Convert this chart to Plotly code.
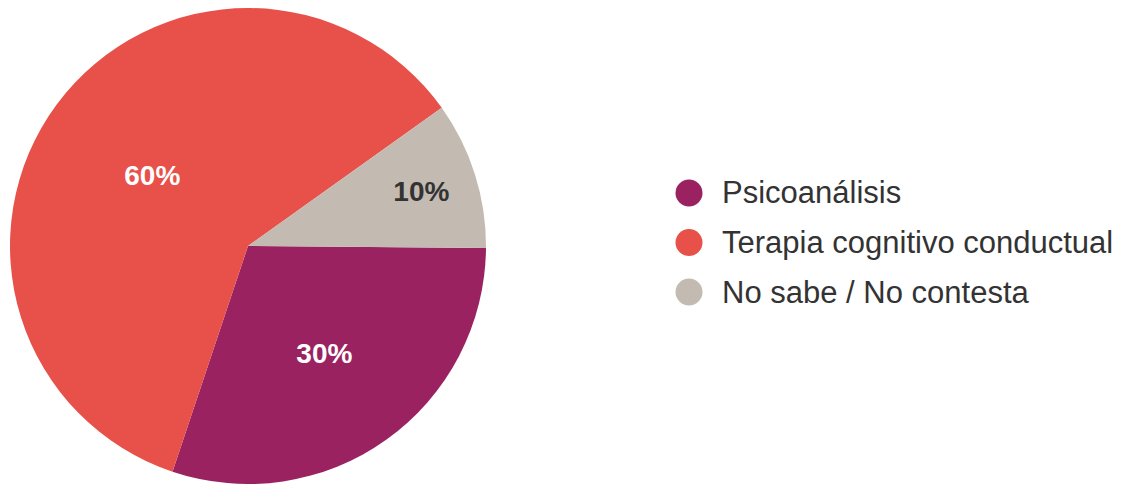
import plotly.graph_objects as go

# Survey answers and their shares
categories = ["Psicoanálisis", "Terapia cognitivo conductual", "No sabe / No contesta"]
shares = [30, 60, 10]
colors = ["#9A2261", "#E8504A", "#C3BBB1"]
label_colors = ["#FFFFFF", "#FFFFFF", "#333333"]

W, H = 1124, 484
FONT = "Arial, Liberation Sans, sans-serif"

fig = go.Figure(
    go.Pie(
        labels=categories,
        values=shares,
        sort=False,
        direction="clockwise",
        rotation=90.5,
        marker=dict(colors=colors, line=dict(width=0)),
        texttemplate="%{percent:.0%}",
        textposition="inside",
        insidetextorientation="horizontal",
        textfont=dict(family=FONT, size=28, color=label_colors, weight="bold"),
        hoverinfo="label+percent",
        showlegend=False,
        domain=dict(x=[10 / W, 486 / W], y=[0, 476 / H]),
    )
)

# Legend with round swatches, one row per category
legend_x, legend_y0, row_gap, dot_r, text_gap = 689, 193, 49.5, 13.5, 31
shapes, annotations = [], []
for i, (name, col) in enumerate(zip(categories, colors)):
    cy = legend_y0 + i * row_gap
    shapes.append(dict(
        type="circle", xref="paper", yref="paper",
        x0=(legend_x - dot_r) / W, x1=(legend_x + dot_r) / W,
        y0=1 - (cy + dot_r) / H, y1=1 - (cy - dot_r) / H,
        fillcolor=col, line=dict(width=0),
    ))
    annotations.append(dict(
        xref="paper", yref="paper",
        x=(legend_x + text_gap) / W, y=1 - cy / H,
        xanchor="left", yanchor="middle", showarrow=False,
        text=name,
        font=dict(family=FONT, size=31, color="#333333"),
    ))

fig.update_layout(
    width=W, height=H,
    margin=dict(l=0, r=0, t=0, b=0),
    paper_bgcolor="white",
    plot_bgcolor="white",
    shapes=shapes,
    annotations=annotations,
)

fig.write_html("out.html")
